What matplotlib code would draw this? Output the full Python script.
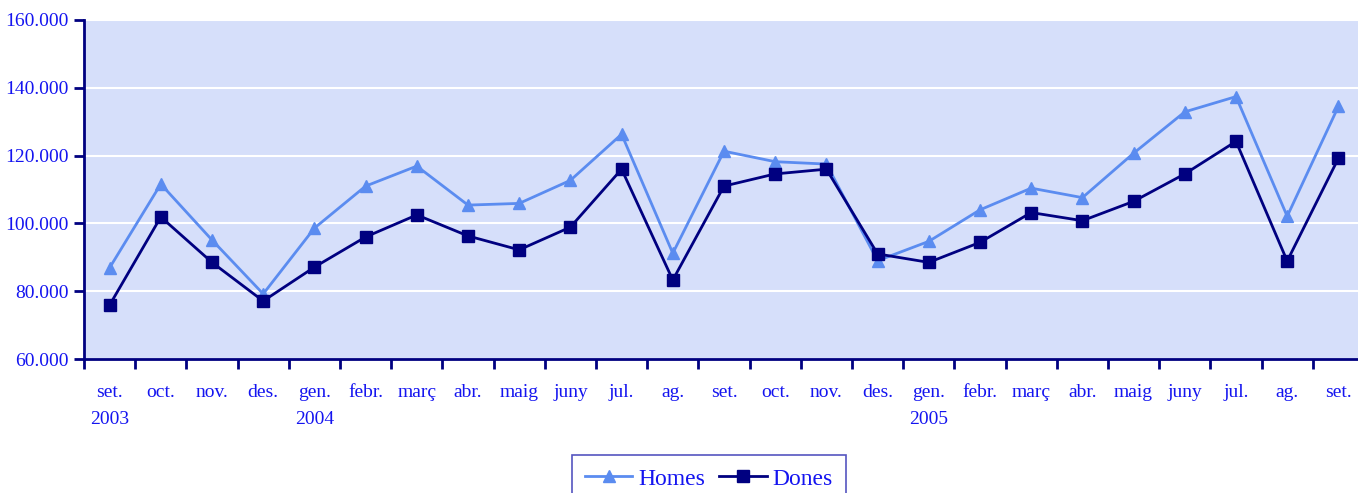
import matplotlib.pyplot as plt
import numpy as np

months = ['set.\n2003', 'oct.', 'nov.', 'des.', 'gen.\n2004', 'febr.', 'març', 'abr.', 'maig', 'juny',
          'jul.', 'ag.', 'set.', 'oct.', 'nov.', 'des.', 'gen.\n2005', 'febr.', 'març', 'abr.',
          'maig', 'juny', 'jul.', 'ag.', 'set.']
homes = [86900, 111600, 95100, 79200, 98600, 111000, 116900, 105400, 105900, 112700,
         126300, 91200, 121300, 118200, 117500, 89000, 94700, 104000, 110400, 107600,
         120700, 132900, 137400, 102100, 134500]
dones = [75900, 101900, 88500, 77100, 87100, 96000, 102500, 96300, 92200, 98900,
         116000, 83300, 111000, 114600, 116000, 91000, 88500, 94400, 103200, 100800,
         106500, 114600, 124200, 88900, 119200]
yticks = [60000, 80000, 100000, 120000, 140000, 160000]

navy = '#000080'
txt = '#1414f0'
light = '#5b8cf0'

plt.rcParams['font.family'] = ['Liberation Serif', 'DejaVu Serif']

fig = plt.figure(figsize=(13.58, 4.93), dpi=100)
W, H = 1358, 493
ax = fig.add_axes([84 / W, 1 - 359 / H, 1280 / W, 339 / H])
ax.set_facecolor('#d6dffa')

x = np.arange(len(months))
ax.plot(x, homes, color=light, lw=2, marker='^', ms=8.5, label='Homes', zorder=3)
ax.plot(x, dones, color=navy, lw=2, marker='s', ms=8, label='Dones', zorder=4)

ax.set_xlim(-0.5, len(months) - 0.5)
ax.set_ylim(60000, 160000)
ax.set_yticks(yticks)
ax.set_yticklabels(['{:,}'.format(v).replace(',', '.') for v in yticks], fontsize=14, color=txt)
ax.yaxis.grid(True, color='white', lw=1.5)
ax.set_axisbelow(True)

ax.set_xticks(np.arange(len(months) + 1) - 0.5)
ax.set_xticklabels([])
ax.set_xticks(x, minor=True)
ax.set_xticklabels(months, minor=True, fontsize=14, color=txt, va='top', linespacing=1.8)
ax.tick_params(axis='x', which='major', length=7, width=2, color=navy, direction='out')
ax.tick_params(axis='x', which='minor', length=0, pad=18)
ax.tick_params(axis='y', length=7, width=2, color=navy, pad=4)

for s in ['top', 'right']:
    ax.spines[s].set_visible(False)
for s in ['left', 'bottom']:
    ax.spines[s].set_color(navy)
    ax.spines[s].set_linewidth(2)

leg = fig.legend(loc='upper center', bbox_to_anchor=(709 / W, 1 - 455 / H), ncol=2,
                 fontsize=17, frameon=True, fancybox=False, handlelength=2.0,
                 columnspacing=0.6, handletextpad=0.25, borderpad=0.55, borderaxespad=0)
leg.get_frame().set_edgecolor('#2a2ab0')
leg.get_frame().set_linewidth(1.2)
for t in leg.get_texts():
    t.set_color(txt)

fig.savefig('out.png', dpi=100)
